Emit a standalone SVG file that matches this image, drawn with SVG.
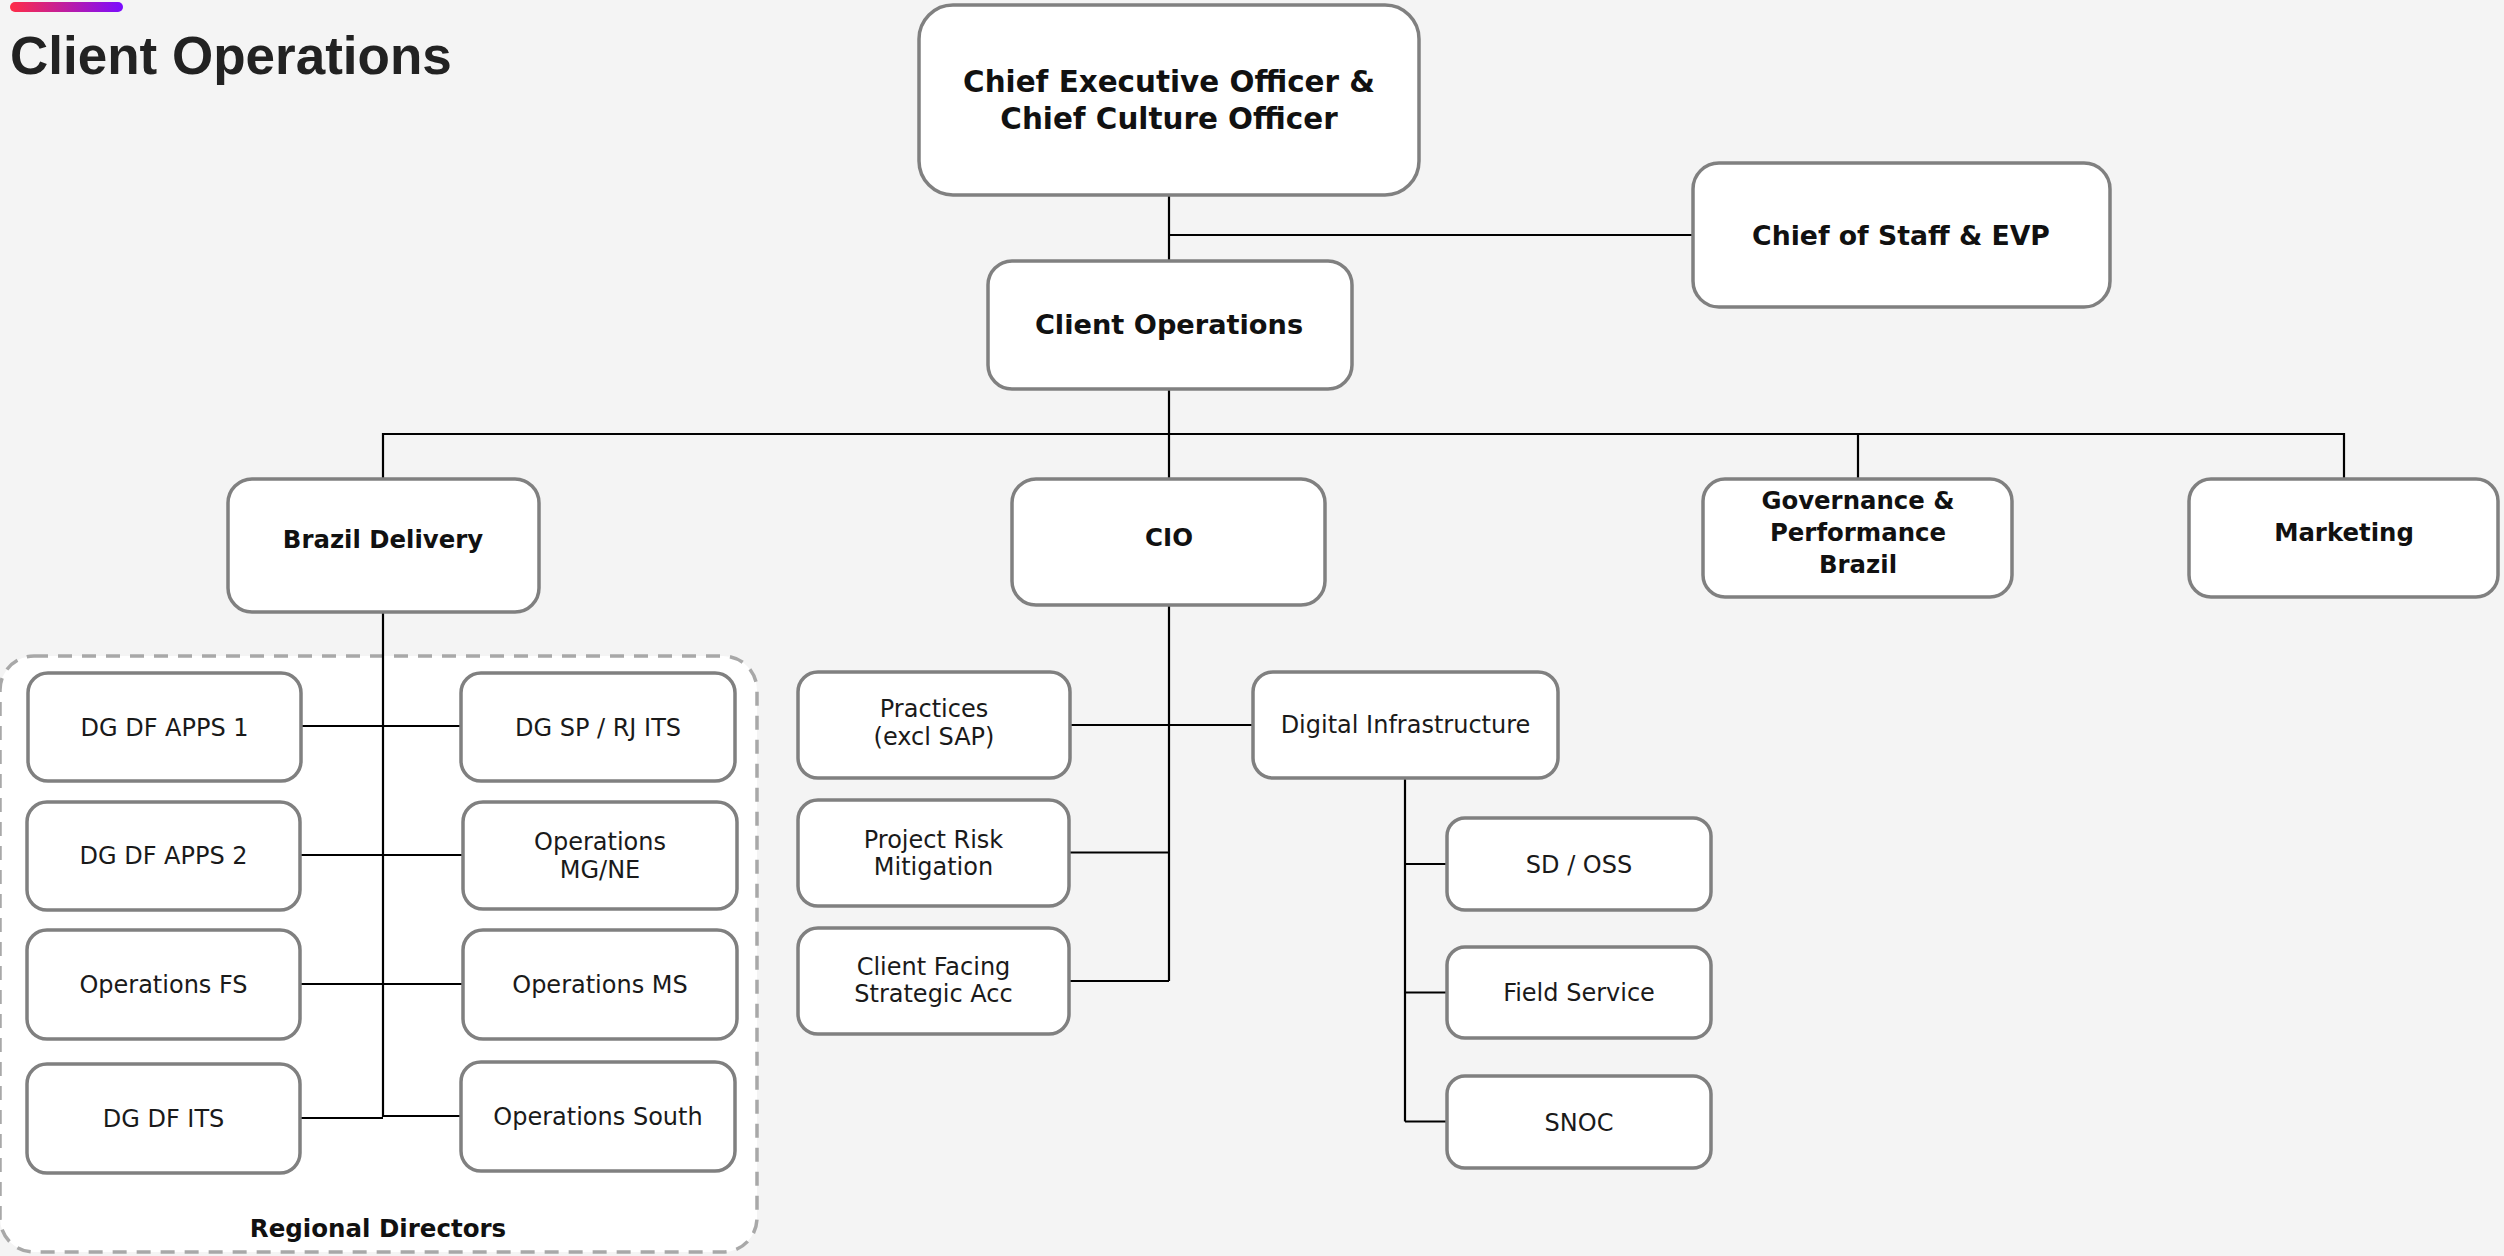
<svg xmlns="http://www.w3.org/2000/svg" width="2504" height="1256" viewBox="0 0 2504 1256">
<defs>
<linearGradient id="bar" x1="0" y1="0" x2="1" y2="0">
<stop offset="0" stop-color="#ff2d46"/>
<stop offset="1" stop-color="#7a0cff"/>
</linearGradient>
<style>
.box{fill:#ffffff;stroke:#808080;stroke-width:3.5}
.b{font-family:"DejaVu Sans",sans-serif;font-weight:bold;fill:#111111;text-anchor:middle}
.r{font-family:"DejaVu Sans",sans-serif;fill:#1a1a1a;text-anchor:middle;font-size:24px}
.ln{stroke:#000000;stroke-width:2.2;fill:none}
</style>
</defs>
<rect width="2504" height="1256" fill="#f4f4f4"/>
<rect x="10" y="2" width="113" height="10" rx="5" fill="url(#bar)"/>
<text x="10" y="74" font-family="Liberation Sans, Arial, sans-serif" font-weight="bold" font-size="53" fill="#222222">Client Operations</text>

<g id="regional-directors">
<rect x="0" y="656" width="757" height="596" rx="34" fill="#ffffff" stroke="#a8a8a8" stroke-width="3.5" stroke-dasharray="14 10"/>
<text class="b" x="378" y="1237" font-size="24.5">Regional Directors</text>
</g>

<g id="connectors">
<path class="ln" d="M1169 195 V261 M1169 235 H1693"/>
<path class="ln" d="M1169 389 V479 M383 479 V434 H2344 V479 M1858 434 V479"/>
<path class="ln" d="M1169 605 V981 M1070 725 H1253 M1069 852.5 H1169 M1069 981 H1169"/>
<path class="ln" d="M1405 778 V1121.5 M1405 864 H1447 M1405 992.5 H1447 M1405 1121.5 H1447"/>
<path class="ln" stroke-width="2.8" d="M383 612 V1117"/>
<path class="ln" d="M300 726 H461 M300 855 H463 M300 984 H463 M300 1118 H383 M383 1116 H461"/>
</g>

<g id="ceo">
<rect class="box" x="919" y="5" width="500" height="190" rx="34"/>
<text class="b" x="1169" y="92" font-size="29.4">Chief Executive Officer &amp;</text>
<text class="b" x="1169" y="129" font-size="29.4">Chief Culture Officer</text>
</g>
<g id="chief-of-staff">
<rect class="box" x="1693" y="163" width="417" height="144" rx="26"/>
<text class="b" x="1901" y="245" font-size="26.7">Chief of Staff &amp; EVP</text>
</g>
<g id="client-operations">
<rect class="box" x="988" y="261" width="364" height="128" rx="24"/>
<text class="b" x="1169" y="334" font-size="27.2">Client Operations</text>
</g>
<g id="brazil-delivery">
<rect class="box" x="228" y="479" width="311" height="133" rx="24"/>
<text class="b" x="383" y="548" font-size="24.4">Brazil Delivery</text>
</g>
<g id="cio">
<rect class="box" x="1012" y="479" width="313" height="126" rx="24"/>
<text class="b" x="1169" y="546" font-size="24.5">CIO</text>
</g>
<g id="governance">
<rect class="box" x="1703" y="479" width="309" height="118" rx="22"/>
<text class="b" x="1858" y="509" font-size="24.4">Governance &amp;</text>
<text class="b" x="1858" y="541" font-size="24.4">Performance</text>
<text class="b" x="1858" y="573" font-size="24.4">Brazil</text>
</g>
<g id="marketing">
<rect class="box" x="2189" y="479" width="309" height="118" rx="22"/>
<text class="b" x="2344" y="541" font-size="24.4">Marketing</text>
</g>

<g id="dg-df-apps-1">
<rect class="box" x="28" y="673" width="273" height="108" rx="20"/>
<text class="r" x="164.5" y="736">DG DF APPS 1</text>
</g>
<g id="dg-df-apps-2">
<rect class="box" x="27" y="802" width="273" height="108" rx="20"/>
<text class="r" x="163.5" y="864">DG DF APPS 2</text>
</g>
<g id="operations-fs">
<rect class="box" x="27" y="930" width="273" height="109" rx="20"/>
<text class="r" x="163.5" y="993">Operations FS</text>
</g>
<g id="dg-df-its">
<rect class="box" x="27" y="1064" width="273" height="109" rx="20"/>
<text class="r" x="163.5" y="1127">DG DF ITS</text>
</g>
<g id="dg-sp-rj-its">
<rect class="box" x="461" y="673" width="274" height="108" rx="20"/>
<text class="r" x="598" y="736">DG SP / RJ ITS</text>
</g>
<g id="operations-mg-ne">
<rect class="box" x="463" y="802" width="274" height="107" rx="20"/>
<text class="r" x="600" y="850">Operations</text>
<text class="r" x="600" y="878">MG/NE</text>
</g>
<g id="operations-ms">
<rect class="box" x="463" y="930" width="274" height="109" rx="20"/>
<text class="r" x="600" y="993">Operations MS</text>
</g>
<g id="operations-south">
<rect class="box" x="461" y="1062" width="274" height="109" rx="20"/>
<text class="r" x="598" y="1125" font-size="22.5">Operations South</text>
</g>

<g id="practices">
<rect class="box" x="798" y="672" width="272" height="106" rx="20"/>
<text class="r" x="934" y="717">Practices</text>
<text class="r" x="934" y="745">(excl SAP)</text>
</g>
<g id="project-risk-mitigation">
<rect class="box" x="798" y="800" width="271" height="106" rx="20"/>
<text class="r" x="933.5" y="848">Project Risk</text>
<text class="r" x="933.5" y="875">Mitigation</text>
</g>
<g id="client-facing-strategic-acc">
<rect class="box" x="798" y="928" width="271" height="106" rx="20"/>
<text class="r" x="933.5" y="975">Client Facing</text>
<text class="r" x="933.5" y="1002">Strategic Acc</text>
</g>
<g id="digital-infrastructure">
<rect class="box" x="1253" y="672" width="305" height="106" rx="20"/>
<text class="r" x="1405.5" y="733">Digital Infrastructure</text>
</g>
<g id="sd-oss">
<rect class="box" x="1447" y="818" width="264" height="92" rx="18"/>
<text class="r" x="1579" y="873">SD / OSS</text>
</g>
<g id="field-service">
<rect class="box" x="1447" y="947" width="264" height="91" rx="18"/>
<text class="r" x="1579" y="1001">Field Service</text>
</g>
<g id="snoc">
<rect class="box" x="1447" y="1076" width="264" height="92" rx="18"/>
<text class="r" x="1579" y="1131" font-size="26.5">SNOC</text>
</g>
</svg>
